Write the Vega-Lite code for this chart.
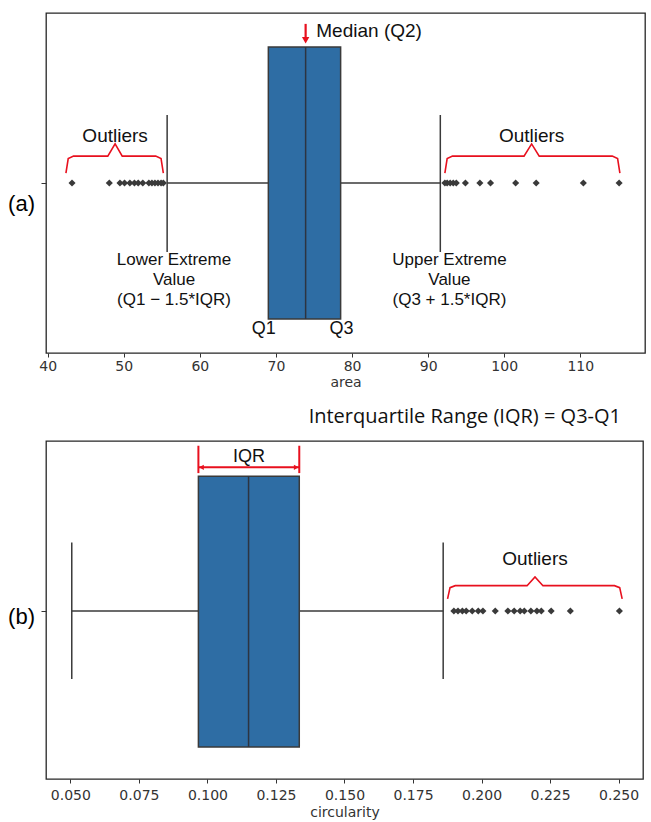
{
  "$schema": "https://vega.github.io/schema/vega-lite/v6.json",
  "background": "white",
  "padding": {"left": 6, "top": 12, "right": 4, "bottom": 0},
  "spacing": 16,
  "config": {
    "view": {"stroke": "#262626", "strokeWidth": 1.3},
    "font": "Liberation Sans",
    "axis": {"labelFont": "DejaVu Sans", "labelFontSize": 14, "labelColor": "#333", "tickColor": "#333", "tickSize": 4, "labelPadding": 2, "titleFont": "DejaVu Sans", "titleFontSize": 14, "titleFontWeight": "normal", "titleColor": "#333", "titlePadding": 2, "grid": false, "domain": false},
    "title": {"font": "Open Sans", "fontSize": 20, "fontWeight": "normal", "color": "#111"},
    "text": {"font": "Liberation Sans", "fontSize": 19, "color": "#111"}
  },
  "datasets": {
    "statsA": [{"q1": 69.0, "median": 73.9, "q3": 78.5, "lower": 55.7, "upper": 91.6}],
    "outA": [{"v": 43.2}, {"v": 48.1}, {"v": 49.5}, {"v": 50.1}, {"v": 50.8}, {"v": 51.4}, {"v": 51.9}, {"v": 52.5}, {"v": 53.3}, {"v": 53.7}, {"v": 54.1}, {"v": 54.5}, {"v": 54.9}, {"v": 55.2}, {"v": 92.2}, {"v": 92.5}, {"v": 92.9}, {"v": 93.3}, {"v": 93.7}, {"v": 94.9}, {"v": 96.8}, {"v": 98.2}, {"v": 101.5}, {"v": 104.2}, {"v": 110.4}, {"v": 115.1}],
    "braceA": [
      {"g": "L", "o": 1, "x": 42.4, "y": 0.529}, {"g": "L", "o": 2, "x": 42.7, "y": 0.572}, {"g": "L", "o": 3, "x": 43.4, "y": 0.579}, {"g": "L", "o": 4, "x": 47.9, "y": 0.579}, {"g": "L", "o": 5, "x": 48.86, "y": 0.615}, {"g": "L", "o": 6, "x": 49.8, "y": 0.579}, {"g": "L", "o": 7, "x": 54.2, "y": 0.579}, {"g": "L", "o": 8, "x": 54.9, "y": 0.572}, {"g": "L", "o": 9, "x": 55.2, "y": 0.529},
      {"g": "R", "o": 1, "x": 92.2, "y": 0.529}, {"g": "R", "o": 2, "x": 92.5, "y": 0.572}, {"g": "R", "o": 3, "x": 93.2, "y": 0.579}, {"g": "R", "o": 4, "x": 102.6, "y": 0.579}, {"g": "R", "o": 5, "x": 103.6, "y": 0.615}, {"g": "R", "o": 6, "x": 104.6, "y": 0.579}, {"g": "R", "o": 7, "x": 114.2, "y": 0.579}, {"g": "R", "o": 8, "x": 114.9, "y": 0.572}, {"g": "R", "o": 9, "x": 115.2, "y": 0.529}
    ],
    "statsB": [{"q1": 0.0967, "median": 0.115, "q3": 0.1335, "lower": 0.0505, "upper": 0.186}],
    "outB": [{"v": 0.1899}, {"v": 0.1914}, {"v": 0.193}, {"v": 0.1944}, {"v": 0.1966}, {"v": 0.1988}, {"v": 0.2005}, {"v": 0.205}, {"v": 0.2096}, {"v": 0.2119}, {"v": 0.2141}, {"v": 0.2156}, {"v": 0.218}, {"v": 0.2202}, {"v": 0.2218}, {"v": 0.2254}, {"v": 0.2324}, {"v": 0.2503}],
    "braceB": [
      {"g": "R", "o": 1, "x": 0.1876, "y": 0.533}, {"g": "R", "o": 2, "x": 0.1885, "y": 0.566}, {"g": "R", "o": 3, "x": 0.1904, "y": 0.572}, {"g": "R", "o": 4, "x": 0.2166, "y": 0.572}, {"g": "R", "o": 5, "x": 0.2195, "y": 0.598}, {"g": "R", "o": 6, "x": 0.2224, "y": 0.572}, {"g": "R", "o": 7, "x": 0.2485, "y": 0.572}, {"g": "R", "o": 8, "x": 0.2504, "y": 0.566}, {"g": "R", "o": 9, "x": 0.2513, "y": 0.533}
    ]
  },
  "vconcat": [
    {
      "width": 599,
      "height": 340,
      "layer": [
        {
          "data": {"name": "statsA"},
          "mark": {"type": "rule", "color": "#3a3a3a", "strokeWidth": 1.5},
          "encoding": {
            "x": {"field": "lower", "type": "quantitative", "title": "area", "scale": {"domain": [39.78, 118.5], "nice": false, "zero": false}, "axis": {"title": "area", "values": [40, 50, 60, 70, 80, 90, 100, 110]}},
            "x2": {"field": "upper"},
            "y": {"datum": 0.5, "type": "quantitative", "title": "(a)", "scale": {"domain": [0, 1], "nice": false, "zero": false}, "axis": {"title": "(a)", "values": [0.5], "labels": false, "tickSize": 5, "titleAngle": 0, "titleFont": "Liberation Sans", "titleFontSize": 22, "titleColor": "#000", "titlePadding": 6, "titleBaseline": "middle", "titleAlign": "right", "titleY": 190}}
          }
        },
        {
          "data": {"name": "statsA"},
          "transform": [{"fold": ["lower", "upper"], "as": ["k", "val"]}],
          "mark": {"type": "rule", "color": "#3a3a3a", "strokeWidth": 1.5},
          "encoding": {
            "x": {"field": "val", "type": "quantitative", "title": "area"},
            "y": {"datum": 0.297, "type": "quantitative", "title": "(a)"},
            "y2": {"datum": 0.7}
          }
        },
        {
          "data": {"name": "statsA"},
          "mark": {"type": "rect", "fill": "#2e6da4", "stroke": "#3a3a3a", "strokeWidth": 1.5},
          "encoding": {
            "x": {"field": "q1", "type": "quantitative", "title": "area"},
            "x2": {"field": "q3"},
            "y": {"datum": 0.1, "type": "quantitative", "title": "(a)"},
            "y2": {"datum": 0.9}
          }
        },
        {
          "data": {"name": "statsA"},
          "mark": {"type": "rule", "color": "#2d3440", "strokeWidth": 1.5},
          "encoding": {
            "x": {"field": "median", "type": "quantitative", "title": "area"},
            "y": {"datum": 0.1, "type": "quantitative", "title": "(a)"},
            "y2": {"datum": 0.9}
          }
        },
        {
          "data": {"name": "outA"},
          "mark": {"type": "point", "shape": "diamond", "filled": true, "color": "#3a3a3a", "size": 50, "opacity": 1},
          "encoding": {
            "x": {"field": "v", "type": "quantitative", "title": "area"},
            "y": {"datum": 0.5, "type": "quantitative", "title": "(a)"}
          }
        },
        {
          "data": {"name": "braceA"},
          "mark": {"type": "line", "color": "#e8101e", "strokeWidth": 1.6},
          "encoding": {
            "x": {"field": "x", "type": "quantitative", "title": "area"},
            "y": {"field": "y", "type": "quantitative", "title": "(a)"},
            "detail": {"field": "g"},
            "order": {"field": "o"}
          }
        },
        {
          "data": {"values": [{}]},
          "mark": {"type": "rule", "color": "#e8101e", "strokeWidth": 2.2},
          "encoding": {
            "x": {"datum": 73.9, "type": "quantitative", "title": "area"},
            "y": {"datum": 0.968, "type": "quantitative", "title": "(a)"},
            "y2": {"datum": 0.925}
          }
        },
        {
          "data": {"values": [{}]},
          "mark": {"type": "point", "shape": "triangle-down", "filled": true, "color": "#e8101e", "size": 55, "opacity": 1},
          "encoding": {
            "x": {"datum": 73.9, "type": "quantitative", "title": "area"},
            "y": {"datum": 0.92, "type": "quantitative", "title": "(a)"}
          }
        },
        {
          "data": {"values": [{}]},
          "mark": {"type": "text", "text": "Median (Q2)", "align": "left", "baseline": "middle"},
          "encoding": {"x": {"datum": 75.3, "type": "quantitative", "title": "area"}, "y": {"datum": 0.947, "type": "quantitative", "title": "(a)"}}
        },
        {
          "data": {"values": [{}]},
          "mark": {"type": "text", "text": "Outliers", "align": "center", "baseline": "middle"},
          "encoding": {"x": {"datum": 48.86, "type": "quantitative", "title": "area"}, "y": {"datum": 0.638, "type": "quantitative", "title": "(a)"}}
        },
        {
          "data": {"values": [{}]},
          "mark": {"type": "text", "text": "Outliers", "align": "center", "baseline": "middle"},
          "encoding": {"x": {"datum": 103.6, "type": "quantitative", "title": "area"}, "y": {"datum": 0.638, "type": "quantitative", "title": "(a)"}}
        },
        {
          "data": {"values": [{}]},
          "mark": {"type": "text", "text": ["Lower Extreme", "Value", "(Q1 \u2212 1.5*IQR)"], "align": "center", "baseline": "middle", "lineHeight": 20, "fontSize": 17},
          "encoding": {"x": {"datum": 56.6, "type": "quantitative", "title": "area"}, "y": {"datum": 0.274, "type": "quantitative", "title": "(a)"}}
        },
        {
          "data": {"values": [{}]},
          "mark": {"type": "text", "text": ["Upper Extreme", "Value", "(Q3 + 1.5*IQR)"], "align": "center", "baseline": "middle", "lineHeight": 20, "fontSize": 17},
          "encoding": {"x": {"datum": 92.8, "type": "quantitative", "title": "area"}, "y": {"datum": 0.274, "type": "quantitative", "title": "(a)"}}
        },
        {
          "data": {"values": [{}]},
          "mark": {"type": "text", "text": "Q1", "align": "center", "baseline": "middle", "fontSize": 18},
          "encoding": {"x": {"datum": 68.4, "type": "quantitative", "title": "area"}, "y": {"datum": 0.072, "type": "quantitative", "title": "(a)"}}
        },
        {
          "data": {"values": [{}]},
          "mark": {"type": "text", "text": "Q3", "align": "center", "baseline": "middle", "fontSize": 18},
          "encoding": {"x": {"datum": 78.6, "type": "quantitative", "title": "area"}, "y": {"datum": 0.072, "type": "quantitative", "title": "(a)"}}
        }
      ]
    },
    {
      "width": 597,
      "height": 338,
      "title": {"text": "Interquartile Range (IQR) = Q3-Q1", "anchor": "end", "dx": -22, "offset": 14},
      "layer": [
        {
          "data": {"name": "statsB"},
          "mark": {"type": "rule", "color": "#3a3a3a", "strokeWidth": 1.5},
          "encoding": {
            "x": {"field": "lower", "type": "quantitative", "title": "circularity", "scale": {"domain": [0.0411, 0.2589], "nice": false, "zero": false}, "axis": {"title": "circularity", "values": [0.05, 0.075, 0.1, 0.125, 0.15, 0.175, 0.2, 0.225, 0.25], "format": ".3f", "labelPadding": 5, "titlePadding": 3}},
            "x2": {"field": "upper"},
            "y": {"datum": 0.497, "type": "quantitative", "title": "(b)", "scale": {"domain": [0, 1], "nice": false, "zero": false}, "axis": {"title": "(b)", "values": [0.497], "labels": false, "tickSize": 5, "titleAngle": 0, "titleFont": "Liberation Sans", "titleFontSize": 22, "titleColor": "#000", "titlePadding": 6, "titleBaseline": "middle", "titleAlign": "right", "titleY": 175}}
          }
        },
        {
          "data": {"name": "statsB"},
          "transform": [{"fold": ["lower", "upper"], "as": ["k", "val"]}],
          "mark": {"type": "rule", "color": "#3a3a3a", "strokeWidth": 1.5},
          "encoding": {
            "x": {"field": "val", "type": "quantitative", "title": "circularity"},
            "y": {"datum": 0.296, "type": "quantitative", "title": "(b)"},
            "y2": {"datum": 0.7}
          }
        },
        {
          "data": {"name": "statsB"},
          "mark": {"type": "rect", "fill": "#2e6da4", "stroke": "#3a3a3a", "strokeWidth": 1.5},
          "encoding": {
            "x": {"field": "q1", "type": "quantitative", "title": "circularity"},
            "x2": {"field": "q3"},
            "y": {"datum": 0.095, "type": "quantitative", "title": "(b)"},
            "y2": {"datum": 0.896}
          }
        },
        {
          "data": {"name": "statsB"},
          "mark": {"type": "rule", "color": "#2d3440", "strokeWidth": 1.5},
          "encoding": {
            "x": {"field": "median", "type": "quantitative", "title": "circularity"},
            "y": {"datum": 0.095, "type": "quantitative", "title": "(b)"},
            "y2": {"datum": 0.896}
          }
        },
        {
          "data": {"name": "outB"},
          "mark": {"type": "point", "shape": "diamond", "filled": true, "color": "#3a3a3a", "size": 50, "opacity": 1},
          "encoding": {
            "x": {"field": "v", "type": "quantitative", "title": "circularity"},
            "y": {"datum": 0.497, "type": "quantitative", "title": "(b)"}
          }
        },
        {
          "data": {"name": "braceB"},
          "mark": {"type": "line", "color": "#e8101e", "strokeWidth": 1.6},
          "encoding": {
            "x": {"field": "x", "type": "quantitative", "title": "circularity"},
            "y": {"field": "y", "type": "quantitative", "title": "(b)"},
            "detail": {"field": "g"},
            "order": {"field": "o"}
          }
        },
        {
          "data": {"name": "statsB"},
          "mark": {"type": "rule", "color": "#e8101e", "strokeWidth": 2},
          "encoding": {
            "x": {"field": "q1", "type": "quantitative", "title": "circularity"},
            "x2": {"field": "q3"},
            "y": {"datum": 0.922, "type": "quantitative", "title": "(b)"}
          }
        },
        {
          "data": {"name": "statsB"},
          "transform": [{"fold": ["q1", "q3"], "as": ["k", "val"]}],
          "mark": {"type": "rule", "color": "#e8101e", "strokeWidth": 2},
          "encoding": {
            "x": {"field": "val", "type": "quantitative", "title": "circularity"},
            "y": {"datum": 0.905, "type": "quantitative", "title": "(b)"},
            "y2": {"datum": 0.986}
          }
        },
        {
          "data": {"values": [{}]},
          "mark": {"type": "point", "shape": "triangle-left", "filled": true, "color": "#e8101e", "size": 30, "opacity": 1},
          "encoding": {"x": {"datum": 0.0978, "type": "quantitative", "title": "circularity"}, "y": {"datum": 0.922, "type": "quantitative", "title": "(b)"}}
        },
        {
          "data": {"values": [{}]},
          "mark": {"type": "point", "shape": "triangle-right", "filled": true, "color": "#e8101e", "size": 30, "opacity": 1},
          "encoding": {"x": {"datum": 0.1324, "type": "quantitative", "title": "circularity"}, "y": {"datum": 0.922, "type": "quantitative", "title": "(b)"}}
        },
        {
          "data": {"values": [{}]},
          "mark": {"type": "text", "text": "IQR", "align": "center", "baseline": "middle", "fontSize": 18},
          "encoding": {"x": {"datum": 0.1152, "type": "quantitative", "title": "circularity"}, "y": {"datum": 0.952, "type": "quantitative", "title": "(b)"}}
        },
        {
          "data": {"values": [{}]},
          "mark": {"type": "text", "text": "Outliers", "align": "center", "baseline": "middle"},
          "encoding": {"x": {"datum": 0.2195, "type": "quantitative", "title": "circularity"}, "y": {"datum": 0.651, "type": "quantitative", "title": "(b)"}}
        }
      ]
    }
  ]
}
